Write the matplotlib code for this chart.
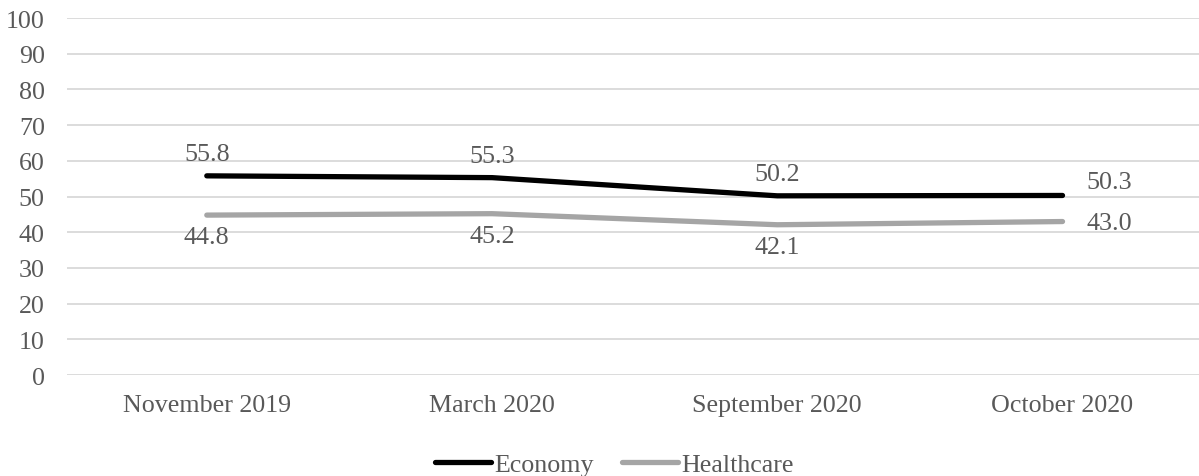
import matplotlib
matplotlib.use("Agg")
import matplotlib.pyplot as plt

# Survey waves and the share (%) naming each issue
waves = ["November 2019", "March 2020", "September 2020", "October 2020"]
economy = [55.8, 55.3, 50.2, 50.3]
healthcare = [44.8, 45.2, 42.1, 43.0]

plt.rcParams["font.family"] = ["Liberation Serif", "DejaVu Serif"]
text_c = "#595959"
grid_c = "#d9d9d9"
fs = 18.7

fig = plt.figure(figsize=(11.99, 4.77), dpi=100)
# plot area runs a little past the right edge, so the gridlines reach the border
ax = fig.add_axes([0.0559, 0.2117, 0.9516, 0.7483])

x = list(range(len(waves)))
ax.plot(x, economy, color="black", lw=3.8, solid_capstyle="round",
        solid_joinstyle="round", label="Economy", zorder=3)
ax.plot(x, healthcare, color="#a5a5a5", lw=3.8, solid_capstyle="round",
        solid_joinstyle="round", label="Healthcare", zorder=3)

# value labels: economy above, healthcare below, last point to the right
last = len(x) - 1
for i, v in enumerate(economy):
    off, ha = ((17, 10), "left") if i == last else ((0, 15.7), "center")
    ax.annotate(f"{v:.1f}", (i, v), xytext=off, textcoords="offset points",
                ha=ha, va="center", fontsize=fs, color=text_c)
for i, v in enumerate(healthcare):
    off, ha = ((17, -1), "left") if i == last else ((0, -15.8), "center")
    ax.annotate(f"{v:.1f}", (i, v), xytext=off, textcoords="offset points",
                ha=ha, va="center", fontsize=fs, color=text_c)

ax.set_xlim(-0.49, len(x) - 0.49)
ax.set_ylim(0, 100)
ax.set_yticks(range(0, 101, 10))
ax.set_xticks(x)
ax.set_xticklabels(waves)
ax.tick_params(length=0, labelsize=fs, labelcolor=text_c)
ax.tick_params(axis="x", pad=14)
ax.tick_params(axis="y", pad=16)
ax.grid(axis="y", color=grid_c, lw=1.3)
ax.set_axisbelow(True)
for s in ax.spines.values():
    s.set_visible(False)

ax.legend(loc="center", bbox_to_anchor=(0.48, -0.25), ncol=2, frameon=False,
          fontsize=fs, labelcolor=text_c, handlelength=2.15, handletextpad=0.12,
          columnspacing=1.1, borderpad=0, borderaxespad=0)

plt.savefig("out.png", dpi=100)
